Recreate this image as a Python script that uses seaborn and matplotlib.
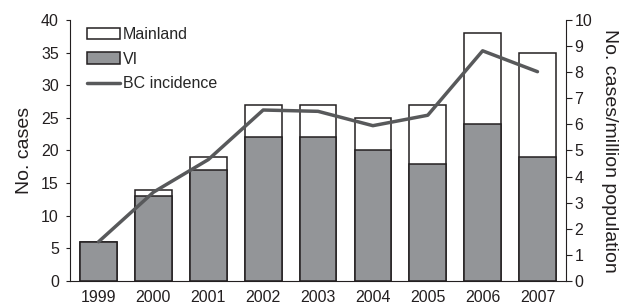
import matplotlib
matplotlib.use('Agg')
import matplotlib.pyplot as plt
import pandas as pd
import seaborn as sns
from matplotlib.patches import Patch
from matplotlib.lines import Line2D

years = ['1999', '2000', '2001', '2002', '2003', '2004', '2005', '2006', '2007']
vi_cases = [6, 13, 17, 22, 22, 20, 18, 24, 19]
mainland_cases = [0, 1, 2, 5, 5, 5, 9, 14, 16]
bc_incidence = [1.5, 3.4, 4.65, 6.55, 6.5, 5.95, 6.35, 8.82, 8.02]

df = pd.DataFrame({'year': years, 'vi': vi_cases, 'mainland': mainland_cases, 'incidence': bc_incidence})
df['total'] = df['vi'] + df['mainland']

sns.set_theme(style='ticks')
plt.rcParams['font.family'] = ['Liberation Sans', 'DejaVu Sans']

bar_gray = '#939598'
edge = '#231f20'
line_gray = '#58595b'

fig = plt.figure(figsize=(6.31, 3.08), dpi=100)
ax = fig.add_axes([0.111, 0.088, 0.786, 0.847])

sns.barplot(data=df, x='year', y='total', color='white', edgecolor=edge, linewidth=1.1,
            width=0.67, saturation=1, ax=ax)
sns.barplot(data=df, x='year', y='vi', color=bar_gray, edgecolor=edge, linewidth=1.1,
            width=0.67, saturation=1, ax=ax)

ax.set_xlim(-0.52, 8.52)
ax.set_ylim(0, 40)
ax.set_yticks(range(0, 41, 5))
ax.set_xlabel('')
ax.set_ylabel('No. cases', fontsize=14, color='#231f20', labelpad=6)
ax.tick_params(axis='both', labelsize=11.5, colors='#231f20', length=3, width=0.8)
ax.tick_params(axis='y', pad=5)
ax.tick_params(axis='x', length=0, pad=6.5)
for s in ['top', 'right']:
    ax.spines[s].set_visible(False)
for s in ['left', 'bottom']:
    ax.spines[s].set_color('#231f20')
    ax.spines[s].set_linewidth(0.8)

ax2 = ax.twinx()
sns.lineplot(x=range(len(years)), y=df['incidence'], color=line_gray, linewidth=2.5, ax=ax2)
ax2.set_ylim(0, 10)
ax2.set_yticks(range(0, 11))
ax2.set_ylabel('No. cases/million population', fontsize=14, rotation=270, labelpad=19, color='#231f20')
ax2.tick_params(axis='y', labelsize=11.5, colors='#231f20', length=4, width=0.8, pad=2)
for s in ['top', 'left', 'bottom']:
    ax2.spines[s].set_visible(False)
ax2.spines['right'].set_color('#231f20')
ax2.spines['right'].set_linewidth(0.8)

handles = [
    Patch(facecolor='white', edgecolor=edge, linewidth=1.1, label='Mainland'),
    Patch(facecolor=bar_gray, edgecolor=edge, linewidth=1.1, label='VI'),
    Line2D([0], [0], color=line_gray, linewidth=2.5, label='BC incidence'),
]
ax2.legend(handles=handles, loc='upper left', bbox_to_anchor=(0.034, 0.973), frameon=False,
           fontsize=11.5, handlelength=2.1, handleheight=0.7, handletextpad=0.15, labelspacing=0.6,
           borderaxespad=0, borderpad=0)

fig.savefig('out.png', dpi=100)
